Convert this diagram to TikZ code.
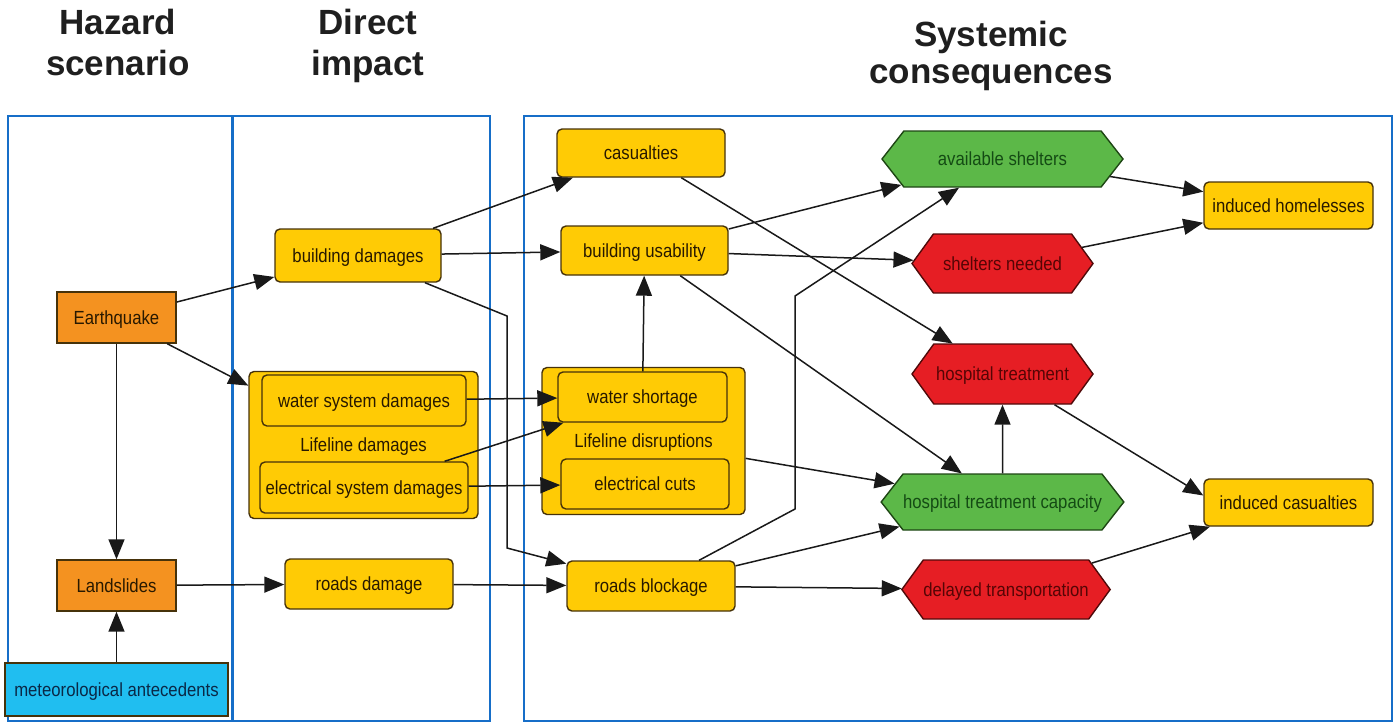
\documentclass[tikz,border=0pt]{standalone}
\usepackage{fontspec}
\setmainfont{Liberation Sans}
\newfontfamily\nodefont{Liberation Sans}[FakeStretch=0.88]
\usetikzlibrary{arrows.meta,shapes.symbols}
\definecolor{ybox}{RGB}{255,203,5}
\definecolor{yborder}{RGB}{70,50,10}
\definecolor{ytext}{RGB}{40,25,0}
\definecolor{obox}{RGB}{244,146,32}
\definecolor{cbox}{RGB}{32,190,240}
\definecolor{ctext}{RGB}{10,40,70}
\definecolor{gbox}{RGB}{92,184,72}
\definecolor{gtext}{RGB}{20,75,20}
\definecolor{gborder}{RGB}{30,70,20}
\definecolor{rbox}{RGB}{230,30,36}
\definecolor{rtext}{RGB}{85,5,5}
\definecolor{rborder}{RGB}{80,10,10}
\definecolor{frameblue}{RGB}{22,110,200}
\begin{document}
\begin{tikzpicture}[x=1pt,y=-1pt,
  lbl/.style={font=\nodefont\fontsize{19}{21}\selectfont, inner sep=0pt, text depth=0pt},
  box/.style={lbl, draw=yborder, line width=1.4pt, rounded corners=5pt, fill=ybox, text=ytext},
  hazbox/.style={lbl, draw=yborder, line width=1.4pt, fill=obox, text=ytext},
  metbox/.style={lbl, draw=yborder, line width=1.4pt, fill=cbox, text=ctext},
  hexg/.style={lbl, signal, signal to=west and east, signal pointer angle=104, draw=gborder, line width=1.4pt, fill=gbox, text=gtext},
  hexr/.style={lbl, signal, signal to=west and east, signal pointer angle=108, draw=rborder, line width=1.4pt, fill=rbox, text=rtext},
  frame/.style={draw=frameblue, line width=1.8pt},
  head/.style={font=\bfseries\fontsize{35}{41}\selectfont, align=center, inner sep=0pt, text=black!88},
  arr/.style={draw=black!90, line width=1.5pt, -{Triangle[length=20pt,width=16pt]}}
]
\useasboundingbox (0,0) rectangle (1399,724);

% headings
\node[head, anchor=north] (h1) at (118,9) {Hazard\\scenario};
\node[head, anchor=north] (h2) at (368,9) {Direct\\impact};
\node[head, anchor=north, font=\bfseries\fontsize{35}{37}\selectfont] (h3) at (991,21) {Systemic\\consequences};

% frames
\draw[frame] (8,116) rectangle (233,721);
\draw[frame] (232,116) rectangle (490,721);
\draw[frame] (524,116) rectangle (1392,721);

% hazard scenario
\node[hazbox, minimum width=119, minimum height=51] (eq) at (116.5,317.5) {Earthquake};
\node[hazbox, minimum width=119, minimum height=51] (ls) at (116.5,585.5) {Landslides};
\node[metbox, minimum width=223, minimum height=53] (met) at (116.5,689.5) {meteorological antecedents};

% direct impact
\node[box, minimum width=166, minimum height=53] (bd) at (358,255.5) {building damages};
\node[box, minimum width=229, minimum height=147] (ldg) at (363.5,445) {Lifeline damages};
\node[box, minimum width=204, minimum height=51] (wsd) at (364,400.5) {water system damages};
\node[box, minimum width=208, minimum height=51] (esd) at (364,487.5) {electrical system damages};
\node[box, minimum width=168, minimum height=50] (rd) at (369,584) {roads damage};

% systemic consequences
\node[box, minimum width=168, minimum height=48] (cas) at (641,153) {casualties};
\node[box, minimum width=167, minimum height=49] (bu) at (644.5,250.5) {building usability};
\node[box, minimum width=203, minimum height=147] (ldr) at (643.5,441) {Lifeline disruptions};
\node[box, minimum width=169, minimum height=50] (wsh) at (642.5,397) {water shortage};
\node[box, minimum width=168, minimum height=50] (ec) at (645,484) {electrical cuts};
\node[box, minimum width=168, minimum height=50] (rb) at (651,586) {roads blockage};

\node[hexg, minimum width=241, minimum height=56] (as) at (1002.5,159) {available shelters};
\node[hexr, minimum width=181, minimum height=59] (sn) at (1002.5,263.5) {shelters needed};
\node[hexr, minimum width=181, minimum height=60] (ht) at (1002.5,374) {hospital treatment};
\node[hexg, minimum width=241, minimum height=56] (htc) at (1002.5,502) {hospital treatment capacity};
\node[hexr, minimum width=182, minimum height=59] (dt) at (1006,589.5) {delayed transportation};

\node[box, minimum width=169, minimum height=47] (ih) at (1288.5,205.5) {induced homelesses};
\node[box, minimum width=169, minimum height=47] (ic) at (1288.5,502.5) {induced casualties};

% connectors
\draw[arr] (eq) -- (bd);
\draw[arr] (eq) -- (ldg);
\draw[arr] (eq) -- (ls);
\draw[arr] (met) -- (ls);
\draw[arr] (ls) -- (rd);
\draw[arr] (bd) -- (cas);
\draw[arr] (bd) -- (bu);
\coordinate (k1) at (507,316);
\coordinate (k2) at (507,548);
\draw[arr] (bd) -- (k1) -- (k2) -- (rb);
\draw[arr] (wsd) -- (wsh);
\draw[arr] (esd) -- (wsh);
\draw[arr] (esd) -- (ec);
\draw[arr] (rd) -- (rb);
\draw[arr] (wsh) -- (bu);
\draw[arr] (cas) -- (ht);
\draw[arr] (bu) -- (as);
\draw[arr] (bu) -- (sn);
\draw[arr] (bu) -- (htc);
\draw[arr] (ldr) -- (htc);
\coordinate (k3) at (795,509);
\coordinate (k4) at (795,296);
\draw[arr] (rb) -- (k3) -- (k4) -- (as);
\draw[arr] (rb) -- (htc);
\draw[arr] (rb) -- (dt);
\draw[arr] (htc) -- (ht);
\draw[arr] (as) -- (ih);
\draw[arr] (sn) -- (ih);
\draw[arr] ([xshift=52pt]ht.south) -- ([yshift=7pt]ic.west);
\draw[arr] (dt) -- (ic);
\end{tikzpicture}
\end{document}
